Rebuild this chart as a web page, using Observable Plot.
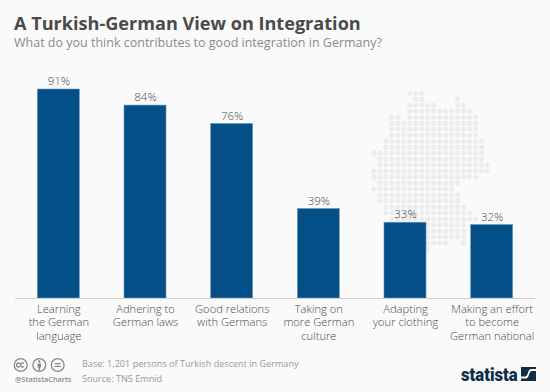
<!DOCTYPE html>
<html><head><meta charset="utf-8">
<script src="https://cdn.jsdelivr.net/npm/d3@7"></script>
<script src="https://cdn.jsdelivr.net/npm/@observablehq/plot@0.6"></script>
<style>
html,body{margin:0;padding:0;background:#fafafa;}
#root{position:relative;width:550px;height:392px;overflow:hidden;font-family:"Open Sans",sans-serif;background:#fafafa;}
#root>div.t{position:absolute;white-space:nowrap;}
#root svg.plot{position:absolute;left:0;top:0;background:transparent;}
</style></head><body>
<div id="root">
<div class="t" style="left:14px;top:10px;font-size:18.1px;font-weight:700;color:#4a4a4a;line-height:26px">A Turkish-German View on Integration</div>
<div class="t" style="left:14px;top:34px;font-size:12.5px;color:#8a8a8a;line-height:18px">What do you think contributes to good integration in Germany?</div>
<div class="t" style="left:82px;top:357px;font-size:9.1px;color:#999;line-height:14px">Base: 1,201 persons of Turkish descent in Germany</div>
<div class="t" style="left:82px;top:372px;font-size:9.1px;color:#999;line-height:14px">Source: TNS Emnid</div>
<div class="t" style="left:15px;top:373px;font-size:7.3px;font-weight:600;color:#8a8a8a;line-height:12px">@StatistaCharts</div>
<div class="t" style="left:461px;top:364px;font-family:Roboto,sans-serif;font-size:19px;font-weight:900;color:#0f2e45;line-height:22px;transform:scaleX(.88);transform-origin:left center">statista</div>
<svg style="position:absolute;left:13px;top:357px" width="54" height="16" fill="none" stroke="#888" stroke-width="1.3">
<circle cx="7.7" cy="8" r="6.4"/><circle cx="26.3" cy="8" r="6.4"/><circle cx="44.7" cy="8" r="6.4"/>
<path d="M7 6.6a2 2 0 1 0 0 2.8M11 6.6a2 2 0 1 0 0 2.8"/>
<circle cx="26.3" cy="4.4" r="1.2" fill="#888" stroke="none"/><path d="M24.6 6.4h3.4v4h-1v3h-1.4v-3h-1z" fill="#888" stroke="none"/>
<path d="M41.7 6.7h6M41.7 9.3h6"/></svg>
<svg style="position:absolute;left:521px;top:367px" width="15" height="14"><rect width="15" height="14" fill="#0f2e45"/><path d="M0 11.5L5 11.5C8.5 11.5 7.5 4 11 4L15 4L15 2L10 2C6.5 2 7.5 9.5 4 9.5L0 9.5Z" fill="#fafafa"/></svg>
</div>
<script>
const categories = ["Learning\nthe German\nlanguage","Adhering to\nGerman laws","Good relations\nwith Germans","Taking on\nmore German\nculture","Adapting\nyour clothing","Making an effort\nto become\nGerman national"];
const shares = [91,84,76,39,33,32];
const shareLabels = ["91%","84%","76%","39%","33%","32%"];
// Dot-map of Germany: [row, first column, last column]
const mapRuns = [[0,6,8],[1,7,8],[1,14,14],[2,6,10],[2,14,15],[3,6,16],[4,3,4],[4,6,17],[5,3,17],[6,3,17],[7,3,17],[8,2,18],[9,2,18],[10,0,18],[11,1,18],[12,1,19],[13,0,19],[14,0,17],[15,1,14],[16,0,13],[17,1,14],[18,1,14],[19,2,15],[20,2,16],[21,3,17],[22,3,15],[23,3,15],[24,3,15],[25,9,12],[25,15,15],[26,9,9]];
const mapDots = mapRuns.flatMap(([row,a,b]) => d3.range(a,b+1).map(col => ({row,col})));
const table = categories.map((c,i)=>({category:c,share:shares[i],label:shareLabels[i]}));
const root = document.getElementById("root");
const map = Plot.plot({
  width:550,height:392,margin:0,
  x:{domain:[0,19],range:[373.3,487],axis:null},
  y:{domain:[0,26],range:[92.7,248.5],axis:null},
  marks:[Plot.dot(mapDots,{x:"col",y:"row",r:2.5,fill:"#ececec"})]
});
map.setAttribute("class","plot");
root.appendChild(map);
const chart = Plot.plot({
  width:550,height:392,marginLeft:15,marginRight:15,marginTop:0,marginBottom:94,
  style:{fontFamily:'"Open Sans",sans-serif',background:"transparent"},
  x:{domain:categories,range:[15,535],paddingInner:.515,paddingOuter:.2575,round:false,label:null},
  y:{domain:[0,91],range:[298,89],axis:null},
  marks:[
    Plot.barY(table,{x:"category",y:"share",fill:"#044f87",stroke:"#6f9bbd",strokeWidth:.6}),
    Plot.ruleY([0],{stroke:"#cfcfcf",strokeWidth:1}),
    Plot.text(table,{x:"category",y:"share",text:"label",dy:-8,fontSize:11.5,fontWeight:300,fill:"#4a4a4a"}),
    Plot.axisX({domain:categories,anchor:"bottom",tickSize:0,tickPadding:5,label:null,fontSize:11.2,fontWeight:300,lineHeight:1.2,lineAnchor:"top",fill:"#4a4a4a",textOverflow:null})
  ]
});
chart.setAttribute("class","plot");
root.appendChild(chart);
</script>
</body></html>
